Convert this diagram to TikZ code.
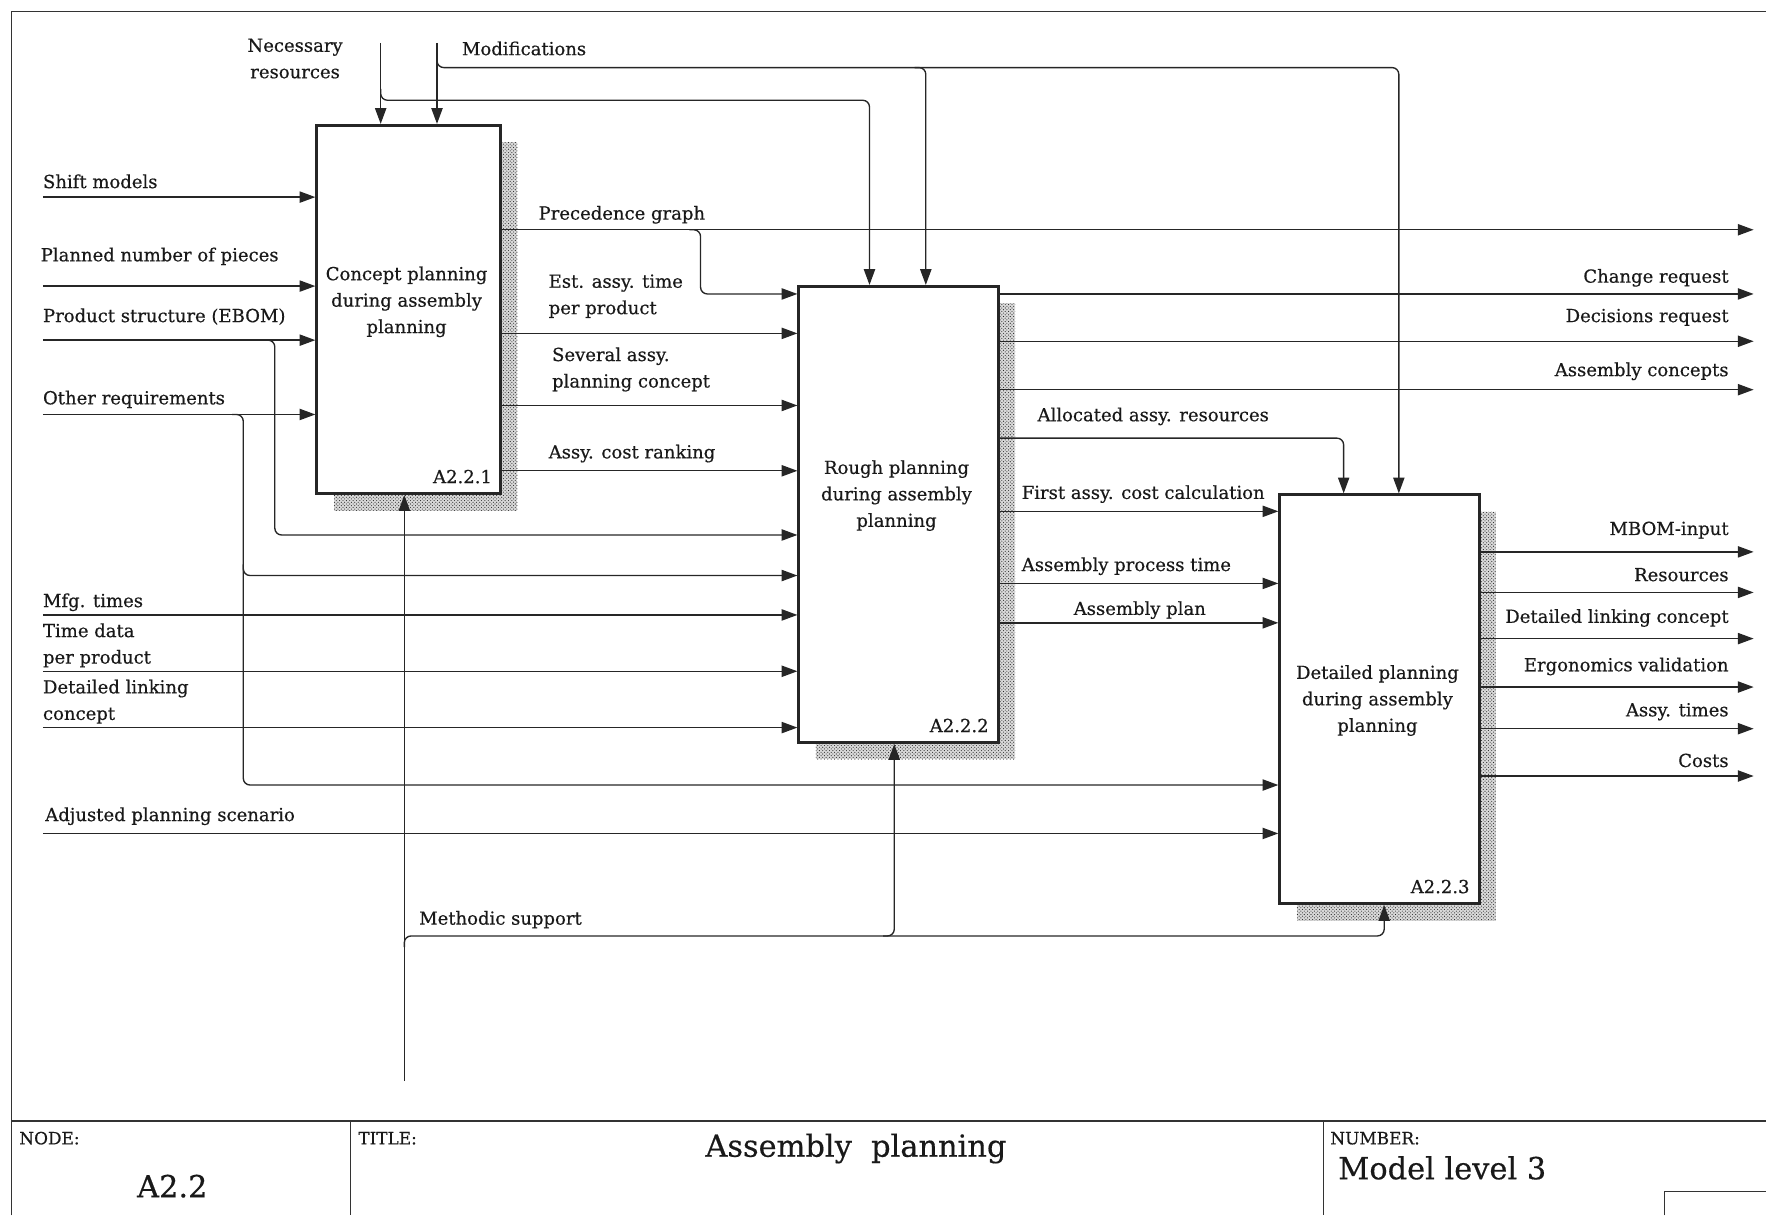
\documentclass[tikz,border=0pt]{standalone}
\usepackage{fontspec}
\setmainfont{DejaVu Serif}[UprightFeatures={FakeBold=0.45}]
\usetikzlibrary{arrows.meta,shadows,patterns,calc}

\begin{document}
\begin{tikzpicture}[x=1pt,y=-1pt,
  frame/.style={draw=black!80, line width=1.3pt},
  conn/.style={draw=black!85, line width=1.2pt, rounded corners=6pt},
  arr/.style={conn, -{Triangle[length=14pt,width=10pt]}},
  pbox/.style={draw=black!85, line width=2.6pt, fill=white, inner sep=0pt, anchor=north west,
    general shadow={shadow xshift=15pt, shadow yshift=-15pt, fill=black!15},
    general shadow={shadow xshift=15pt, shadow yshift=-15pt,
      pattern=crosshatch dots, pattern color=black!85}},
  lbl/.style={inner sep=0pt, font=\fontsize{16}{23.5}\selectfont, text=black!90},
  small/.style={inner sep=0pt, font=\fontsize{15}{18}\selectfont, text=black!90},
  big/.style={inner sep=0pt, font=\fontsize{27}{32}\selectfont, text=black!90}
]
\useasboundingbox (0,0) rectangle (1568,1079);

% sheet frame and title block
\draw[frame] (10,1079) -- (10,10) -- (1568,10);
\draw[frame, line width=1.8pt] (10,995) -- (1568,995);
\draw[frame] (311,995) -- (311,1079);
\draw[frame] (1175,995) -- (1175,1079);
\draw[frame] (1478,1079) -- (1478,1058) -- (1568,1058);

\node[small, anchor=base west] (nodeLbl) at (17,1016) {NODE:};
\node[big, anchor=base] (nodeVal) at (153,1063) {A2.2};
\node[small, anchor=base west] (titleLbl) at (318,1016) {TITLE:};
\node[big, anchor=base] (titleVal) at (760,1027) {Assembly\ \ planning};
\node[small, anchor=base west] (numLbl) at (1181,1016) {NUMBER:};
\node[big, anchor=base west] (numVal) at (1188,1047) {Model level 3};

% activity boxes
\node[pbox, minimum width=163pt, minimum height=327pt] (b1) at (280,110) {};
\node[pbox, minimum width=177pt, minimum height=405pt] (b2) at (708,253) {};
\node[pbox, minimum width=177pt, minimum height=363pt] (b3) at (1135,438) {};

\node[lbl, align=center] (t1) at (361,268) {Concept planning\\during assembly\\planning};
\node[lbl, align=center] (t2) at (796,440) {Rough planning\\during assembly\\planning};
\node[lbl, align=center] (t3) at (1223,622) {Detailed planning\\during assembly\\planning};
\node[lbl, anchor=base east] (id1) at (437,429) {A2.2.1};
\node[lbl, anchor=base east] (id2) at (878,650) {A2.2.2};
\node[lbl, anchor=base east] (id3) at (1305,793) {A2.2.3};

% controls from the top
\coordinate (cNec) at (338,38);
\coordinate (cMod) at (388,38);
\coordinate (jNec) at (338,89);
\coordinate (kNec) at (772,89);
\coordinate (jMod) at (388,60);
\coordinate (kMod2) at (822,60);
\coordinate (kMod3) at (1242,60);
\draw[arr] (cNec) -- (cNec |- b1.north);
\draw[arr] (cMod) -- (cMod |- b1.north);
\draw[arr] ($(jNec)+(0,-10)$) -- (jNec) -- (kNec) -- (kNec |- b2.north);
\draw[arr] ($(jMod)+(0,-10)$) -- (jMod) -- (kMod3) -- (kMod3 |- b3.north);
\draw[arr] ($(kMod2)+(-10,0)$) -- (kMod2) -- (kMod2 |- b2.north);
\node[lbl, align=center] (lNec) at (262,52) {Necessary\\resources};
\node[lbl, anchor=base west] (lMod) at (410,49) {Modifications};

% inputs from the left
\coordinate (iShift) at (38,175);
\coordinate (iPieces) at (38,254);
\coordinate (iEbom) at (38,302);
\coordinate (iReq) at (38,368);
\coordinate (iMfg) at (38,546);
\coordinate (iTime) at (38,596);
\coordinate (iLink) at (38,646);
\coordinate (iAdj) at (38,740);
\draw[arr] (iShift) -- (iShift -| b1.west);
\draw[arr] (iPieces) -- (iPieces -| b1.west);
\draw[arr] (iEbom) -- (iEbom -| b1.west);
\draw[arr] (iReq) -- (iReq -| b1.west);
\draw[arr] (iMfg) -- (iMfg -| b2.west);
\draw[arr] (iTime) -- (iTime -| b2.west);
\draw[arr] (iLink) -- (iLink -| b2.west);
\draw[arr] (iAdj) -- (iAdj -| b3.west);

\coordinate (jEbom) at (244,302);
\coordinate (kEbom) at (244,475);
\draw[arr] ($(jEbom)+(-10,0)$) -- (jEbom) -- (kEbom) -- (kEbom -| b2.west);
\coordinate (jReq) at (216,368);
\coordinate (kReq2) at (216,511);
\coordinate (kReq3) at (216,697);
\draw[arr] ($(jReq)+(-10,0)$) -- (jReq) -- (kReq2) -- (kReq2 -| b2.west);
\draw[arr] ($(kReq2)+(0,-10)$) -- (kReq3) -- (kReq3 -| b3.west);

\node[lbl, anchor=base west] (lShift) at (38,167) {Shift models};
\node[lbl, anchor=base west] (lPieces) at (36,232) {Planned number of pieces};
\node[lbl, anchor=base west] (lEbom) at (38,286) {Product structure (EBOM)};
\node[lbl, anchor=base west] (lReq) at (38,359) {Other requirements};
\node[lbl, anchor=base west] (lMfg) at (38,539) {Mfg. times};
\node[lbl, anchor=west, align=left] (lTime) at (38,573) {Time data\\per product};
\node[lbl, anchor=west, align=left] (lLink) at (38,623) {Detailed linking\\concept};
\node[lbl, anchor=base west] (lAdj) at (40,729) {Adjusted planning scenario};

% outputs of the concept planning
\coordinate (oPrec) at (1557,204);
\coordinate (jPrec) at (622,204);
\coordinate (kPrec) at (622,261);
\coordinate (mEst) at (600,296);
\coordinate (mSev) at (600,360);
\coordinate (mCost) at (600,418);
\draw[arr] (oPrec -| b1.east) -- (oPrec);
\draw[arr] ($(jPrec)+(-10,0)$) -- (jPrec) -- (kPrec) -- (kPrec -| b2.west);
\draw[arr] (mEst -| b1.east) -- (mEst -| b2.west);
\draw[arr] (mSev -| b1.east) -- (mSev -| b2.west);
\draw[arr] (mCost -| b1.east) -- (mCost -| b2.west);
\node[lbl, anchor=base west] (lPrec) at (478,195) {Precedence graph};
\node[lbl, anchor=west, align=left] (lEst) at (487,263) {Est. assy. time\\per product};
\node[lbl, anchor=west, align=left] (lSev) at (490,328) {Several assy.\\planning concept};
\node[lbl, anchor=base west] (lCost) at (487,407) {Assy. cost ranking};

% outputs of the rough planning
\coordinate (oChange) at (1557,261);
\coordinate (oDecis) at (1557,303);
\coordinate (oConc) at (1557,346);
\coordinate (kAlloc) at (1193,389);
\coordinate (mFirst) at (1000,454);
\coordinate (mProc) at (1000,518);
\coordinate (mPlan) at (1000,553);
\draw[arr] (oChange -| b2.east) -- (oChange);
\draw[arr] (oDecis -| b2.east) -- (oDecis);
\draw[arr] (oConc -| b2.east) -- (oConc);
\draw[arr] (kAlloc -| b2.east) -- (kAlloc) -- (kAlloc |- b3.north);
\draw[arr] (mFirst -| b2.east) -- (mFirst -| b3.west);
\draw[arr] (mProc -| b2.east) -- (mProc -| b3.west);
\draw[arr] (mPlan -| b2.east) -- (mPlan -| b3.west);
\node[lbl, anchor=base east] (lChange) at (1535,251) {Change request};
\node[lbl, anchor=base east] (lDecis) at (1535,286) {Decisions request};
\node[lbl, anchor=base east] (lConc) at (1535,334) {Assembly concepts};
\node[lbl, anchor=base west] (lAlloc) at (921,374) {Allocated assy. resources};
\node[lbl, anchor=base west] (lFirst) at (907,443) {First assy. cost calculation};
\node[lbl, anchor=base west] (lProc) at (907,507) {Assembly process time};
\node[lbl, anchor=base] (lPlan) at (1012,546) {Assembly plan};

% outputs of the detailed planning
\coordinate (oMbom) at (1557,490);
\coordinate (oRes) at (1557,526);
\coordinate (oLink) at (1557,567);
\coordinate (oErgo) at (1557,610);
\coordinate (oTimes) at (1557,647);
\coordinate (oCosts) at (1557,689);
\draw[arr] (oMbom -| b3.east) -- (oMbom);
\draw[arr] (oRes -| b3.east) -- (oRes);
\draw[arr] (oLink -| b3.east) -- (oLink);
\draw[arr] (oErgo -| b3.east) -- (oErgo);
\draw[arr] (oTimes -| b3.east) -- (oTimes);
\draw[arr] (oCosts -| b3.east) -- (oCosts);
\node[lbl, anchor=base east] (lMbom) at (1535,475) {MBOM-input};
\node[lbl, anchor=base east] (lRes) at (1535,516) {Resources};
\node[lbl, anchor=base east] (lLinkOut) at (1535,553) {Detailed linking concept};
\node[lbl, anchor=base east] (lErgo) at (1535,596) {Ergonomics validation};
\node[lbl, anchor=base east] (lTimes) at (1535,636) {Assy. times};
\node[lbl, anchor=base east] (lCosts) at (1535,681) {Costs};

% mechanism from below
\coordinate (mSup) at (359,960);
\coordinate (jSup) at (359,831);
\coordinate (kSup2) at (794,831);
\coordinate (kSup3) at (1229,831);
\draw[arr] (mSup) -- (mSup |- b1.south);
\draw[arr] ($(jSup)+(0,10)$) -- (jSup) -- (kSup3) -- (kSup3 |- b3.south);
\draw[arr] ($(kSup2)+(-10,0)$) -- (kSup2) -- (kSup2 |- b2.south);
\node[lbl, anchor=base west] (lSup) at (372,821) {Methodic support};
\end{tikzpicture}
\end{document}
